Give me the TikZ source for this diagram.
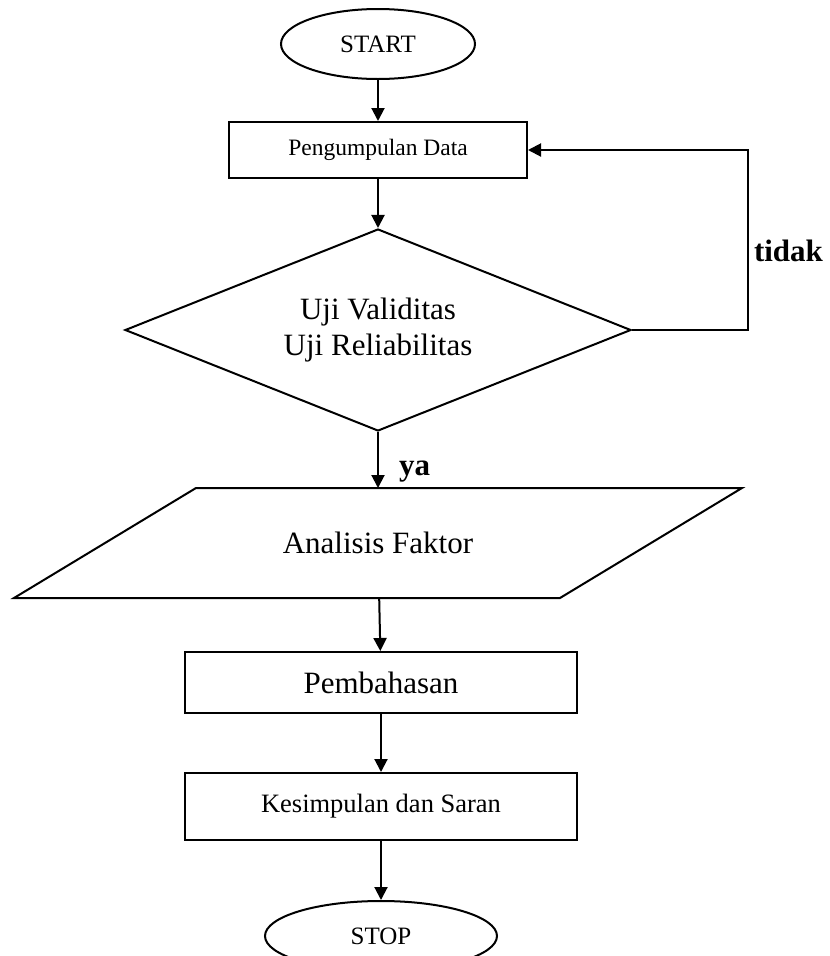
\documentclass[tikz,border=0pt]{standalone}
\usepackage{fontspec}
\setmainfont{Liberation Serif}
\usetikzlibrary{shapes.geometric,arrows.meta,positioning}

\begin{document}
\begin{tikzpicture}[x=1pt,y=-1pt,>={Triangle[length=13pt,width=13pt]},line width=2pt,on grid]
\useasboundingbox (0,0) rectangle (830,956);
\tikzset{terminal/.style={draw,ellipse,minimum width=194pt,minimum height=70pt,inner sep=0pt,font=\fontsize{25}{30}\selectfont}}
\tikzset{proses/.style={draw,rectangle,minimum width=392pt,inner sep=0pt,font=\fontsize{31}{36.5}\selectfont}}
\tikzset{jawab/.style={inner sep=0pt,font=\fontsize{31}{36}\selectfont\bfseries}}
  \node[terminal]  (start) at (378,44)   {START};
  \node[proses,minimum width=298pt,minimum height=56pt,font=\fontsize{23.5}{28}\selectfont]
                   (data)  [below=106pt of start] {Pengumpulan Data};
  \node[proses,diamond,aspect=2.5,minimum width=506pt,minimum height=202pt,align=center]
                   (uji)   [below=180pt of data]  {Uji Validitas\\Uji Reliabilitas};
  \node[proses,draw=none,minimum width=544pt,minimum height=108pt]
                   (analisis) [below=213pt of uji] {Analisis Faktor};
  \node[proses,minimum height=61pt]
                   (bahas) [below=139.5pt of analisis,xshift=3pt] {Pembahasan};
  \node[proses,minimum height=67pt,font=\fontsize{26.5}{31}\selectfont]
                   (simpul) [below=124pt of bahas] {Kesimpulan dan Saran};
  \node[terminal,minimum width=232pt]
                   (stop)  [below=129.5pt of simpul] {STOP};
% jajaran genjang untuk input/output
\draw ([xshift=91pt]analisis.north west) -- ([xshift=91pt]analisis.north east)
   -- ([xshift=-91pt]analisis.south east) -- ([xshift=-91pt]analisis.south west) -- cycle;
\draw[->] (start) -- (data);
\draw[->] (data) -- (uji);
\draw[->] (uji) -- node[jawab,right,pos=0.7,xshift=20pt] {ya} (analisis);
\draw[->] (uji.east) -- ++(116,0) |- node[jawab,right,pos=0.22,xshift=5pt] {tidak} (data.east);
\draw[->] (analisis) -- (bahas);
\draw[->] (bahas) -- (simpul);
\draw[->] (simpul) -- (stop);
\end{tikzpicture}
\end{document}
